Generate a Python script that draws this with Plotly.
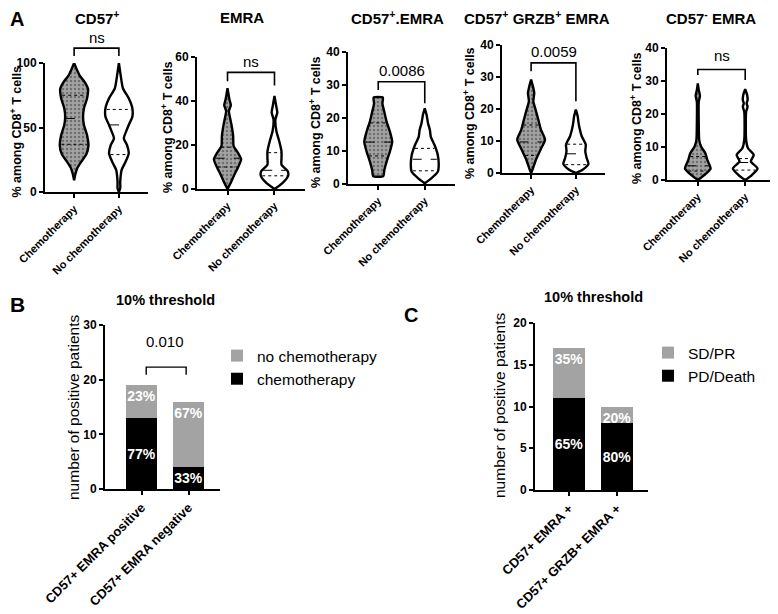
import numpy as np
import plotly.graph_objects as go

W, H = 778, 614
FONT = "Liberation Sans, Arial, Helvetica, sans-serif"

groups = ["Chemotherapy", "No chemotherapy"]

# ---------------- Panel A: violin profiles ----------------
# *_lv : levels (% among CD8+ T cells), *_hw : half-width of the violin (category units)
# *_q  : [Q1, median, Q3]
cd57_chemo_lv = [9, 14, 18.4, 23.5, 29, 36, 44, 52, 58, 65, 72.6, 80, 85, 90, 95, 100]
cd57_chemo_hw = [0, .03, .07, .16, .27, .32, .29, .22, .20, .22, .29, .31, .24, .13, .06, 0]
cd57_chemo_q = [37, 57, 75]
cd57_nochemo_lv = [0, 3, 8, 17, 23.5, 30, 36.5, 41.6, 46.8, 52, 58.4, 64.9, 72.6, 80.4, 90.4, 100]
cd57_nochemo_hw = [0, .03, .03, .06, .15, .22, .18, .11, .16, .22, .30, .30, .22, .09, .04, 0]
cd57_nochemo_q = [29, 52, 64]

emra_chemo_lv = [0, 2.9, 6.7, 9.7, 13.5, 16.5, 19.5, 24.1, 28.6, 31.7, 35.5, 38.1, 40.8, 45.8]
emra_chemo_hw = [0, .07, .15, .22, .29, .22, .13, .12, .09, .06, .03, .07, .04, 0]
emra_chemo_q = [10, 14, 19]
emra_nochemo_lv = [0, 2.9, 5.9, 8.2, 11, 14, 17, 21.8, 26.4, 31.7, 34.7, 38.5, 42.3]
emra_nochemo_hw = [0, .18, .29, .28, .15, .15, .15, .10, .04, .02, .06, .03, 0]
emra_nochemo_q = [6, 8.5, 16.5]

cd57emra_chemo_lv = [2.4, 4.2, 6.8, 9.8, 12.8, 15.9, 18.9, 21.9, 24.4, 26.2]
cd57emra_chemo_hw = [.11, .13, .18, .25, .30, .25, .18, .13, .09, .10]
cd57emra_chemo_q = [8.5, 12.7, 18.5]
cd57emra_nochemo_lv = [0.2, 1.7, 3.7, 5.8, 8.8, 11.8, 14.3, 16.4, 18.4, 20.9, 22.9]
cd57emra_nochemo_hw = [0, .14, .28, .30, .28, .21, .13, .11, .07, .04, 0]
cd57emra_nochemo_q = [4, 7.5, 10.8]

grzb_chemo_lv = [0, 1, 4.2, 7.3, 10.4, 13.5, 16.7, 19.8, 22.4, 25, 27.1, 29.2]
grzb_chemo_hw = [0, .03, .11, .21, .31, .22, .16, .10, .05, .07, .04, 0]
grzb_chemo_q = [5.5, 9.7, 15]
grzb_nochemo_lv = [0, 1, 2.8, 4.7, 6.8, 8.9, 11.5, 13.5, 15.6, 17.7, 19.8]
grzb_nochemo_hw = [0, .15, .28, .24, .21, .22, .13, .09, .06, .04, 0]
grzb_nochemo_q = [2.6, 6, 9]

neg_chemo_lv = [0, 2, 3.5, 6.1, 8.1, 10.1, 12.1, 17.2, 23.7, 25.5, 27.3, 29.3]
neg_chemo_hw = [0, .18, .27, .20, .16, .07, .03, .02, .02, .045, .02, 0]
neg_chemo_q = [2.7, 4.3, 7.1]
neg_nochemo_lv = [0, 1.5, 3.5, 5.6, 7.6, 9.6, 12.1, 20.7, 22.2, 23.2, 24.2, 25.8, 27.5]
neg_nochemo_hw = [0, .14, .26, .12, .18, .06, .02, .02, .05, .03, .05, .04, 0]
neg_nochemo_q = [3, 5.3, 6.5]

panel_titles = ["CD57<sup>+</sup>", "EMRA", "CD57<sup>+</sup>.EMRA",
                "CD57<sup>+</sup> GRZB<sup>+</sup> EMRA", "CD57<sup>-</sup> EMRA"]
panel_ymax = [100, 60, 40, 40, 40]
panel_dtick = [50, 20, 10, 10, 10]
a_ytitle = "% among CD8<sup>+</sup> T cells"
p_values = ["ns", "ns", "0.0086", "0.0059", "ns"]
# bracket: top, left leg end, right leg end (data units)
bracket_levels = [(111.5, 105.5, 105.5), (53, 49, 47), (31, 28.5, 24.5),
                  (34.4, 31.8, 22.4), (33.5, 31.8, 30.3)]
pvalue_levels = [120, 58, 34.5, 38, 37.6]

# ---------------- Panel B ----------------
b_categories = ["CD57+ EMRA positive", "CD57+ EMRA negative"]
b_chemo = [13, 4]
b_nochemo = [6, 12]
b_chemo_pct = ["77%", "33%"]
b_nochemo_pct = ["23%", "67%"]
b_pvalue = "0.010"

# ---------------- Panel C ----------------
c_categories = ["CD57+ EMRA +", "CD57+ GRZB+ EMRA +"]
c_pd = [11, 8]
c_sd = [6, 2]
c_pd_pct = ["65%", "80%"]
c_sd_pct = ["35%", "20%"]
bar_ytitle = "number of positive patients"

# ---------------- layout geometry (pixels in the target picture) ----------------
a_dom_x = [(45, 148), (197, 305), (348, 455), (502, 605), (667, 776)]
a_dom_y = [(63, 192), (57, 189), (52, 184), (45, 173), (48, 180)]
a_title_pos = [(97, 17), (242, 17), (397, 17), (537, 17), (711, 17)]
a_ytitle_x = [16, 167, 315, 469, 636]

# the page places the figure 8 px from the top-left corner of the window
OFF = 8


def fx(px):
    return (px - OFF) / W


def fy(py):
    return 1 - (py - OFF) / H


GRAY = "#a3a3a3"
fig = go.Figure()

axis_line = dict(showline=True, linecolor="black", linewidth=2, ticks="outside",
                 ticklen=4, tickwidth=2, tickcolor="black", showgrid=False,
                 zeroline=False, automargin=False)
tick_bold = lambda s: dict(family=FONT, size=s, color="black", weight="bold")

profiles = [
    ((cd57_chemo_lv, cd57_chemo_hw, cd57_chemo_q), (cd57_nochemo_lv, cd57_nochemo_hw, cd57_nochemo_q)),
    ((emra_chemo_lv, emra_chemo_hw, emra_chemo_q), (emra_nochemo_lv, emra_nochemo_hw, emra_nochemo_q)),
    ((cd57emra_chemo_lv, cd57emra_chemo_hw, cd57emra_chemo_q), (cd57emra_nochemo_lv, cd57emra_nochemo_hw, cd57emra_nochemo_q)),
    ((grzb_chemo_lv, grzb_chemo_hw, grzb_chemo_q), (grzb_nochemo_lv, grzb_nochemo_hw, grzb_nochemo_q)),
    ((neg_chemo_lv, neg_chemo_hw, neg_chemo_q), (neg_nochemo_lv, neg_nochemo_hw, neg_nochemo_q)),
]

shapes = []
annotations = []
layout = {}


def ann(**kw):
    d = dict(showarrow=False, xanchor="center", yanchor="middle")
    d.update(kw)
    annotations.append(d)


for i in range(5):
    n = i + 1
    s = "" if n == 1 else str(n)
    xa, ya = "x" + s, "y" + s
    for gi, (lv, hw, q) in enumerate(profiles[i]):
        lv = np.asarray(lv, float)
        hw = np.asarray(hw, float)
        xs = np.concatenate([gi - hw, (gi + hw)[::-1], [gi - hw[0]]])
        ys = np.concatenate([lv, lv[::-1], [lv[0]]])
        kw = dict(x=xs, y=ys, mode="lines", fill="toself",
                  line=dict(color="black", width=2.4, shape="spline", smoothing=0.6),
                  xaxis=xa, yaxis=ya, showlegend=False, hoverinfo="skip")
        if gi == 0:
            kw["fillcolor"] = GRAY
            kw["fillpattern"] = dict(shape=".", bgcolor=GRAY, fgcolor="#707070",
                                     size=4, solidity=0.3)
        else:
            kw["fillcolor"] = "white"
        fig.add_trace(go.Scatter(**kw))
        for qi, qv in enumerate(q):
            w = float(np.interp(qv, lv, hw)) * 0.9
            fig.add_trace(go.Scatter(
                x=[gi - w, gi + w], y=[qv, qv], mode="lines",
                line=dict(color="black", width=1, dash="dash" if qi == 1 else "dot"),
                xaxis=xa, yaxis=ya, showlegend=False, hoverinfo="skip"))

    ymax = panel_ymax[i]
    layout["xaxis" + s] = dict(
        axis_line, domain=[fx(a_dom_x[i][0]), fx(a_dom_x[i][1])], anchor=ya,
        range=[-0.65, 1.65], tickvals=[0, 1], ticktext=groups, tickangle=-45,
        tickfont=tick_bold(11))
    layout["yaxis" + s] = dict(
        axis_line, domain=[fy(a_dom_y[i][1]), fy(a_dom_y[i][0])], anchor=xa,
        range=[0, ymax], tickvals=list(range(0, ymax + 1, panel_dtick[i])),
        tickfont=tick_bold(12))
    top, lft, rgt = bracket_levels[i]
    f = lambda v: v / ymax
    shapes.append(dict(type="path", xref=xa, yref=ya + " domain",
                       path=f"M 0,{f(lft)} L 0,{f(top)} L 1,{f(top)} L 1,{f(rgt)}",
                       line=dict(color="black", width=1.6)))
    ann(xref=xa, yref=ya + " domain", x=0.5, y=f(pvalue_levels[i]), text=p_values[i],
        font=dict(family=FONT, size=15, color="black"))
    ann(xref="paper", yref="paper", x=fx(a_title_pos[i][0]), y=fy(a_title_pos[i][1]),
        text=panel_titles[i], font=dict(family=FONT, size=15, color="black", weight="bold"))
    ann(xref="paper", yref="paper", x=fx(a_ytitle_x[i]),
        y=fy((a_dom_y[i][0] + a_dom_y[i][1]) / 2 + 4), text=a_ytitle, textangle=-90,
        font=dict(family=FONT, size=12.5, color="black", weight="bold"))

bar_text_font = dict(family=FONT, size=14, color="white", weight="bold")

# ---------------- Panel B bars ----------------
fig.add_trace(go.Bar(x=b_categories, y=b_chemo, name="chemotherapy", marker_color="black",
                     marker_line_width=0, width=0.66, text=b_chemo_pct, textangle=0,
                     textposition="inside", insidetextanchor="middle", textfont=bar_text_font,
                     xaxis="x6", yaxis="y6", legend="legend", hoverinfo="skip"))
fig.add_trace(go.Bar(x=b_categories, y=b_nochemo, name="no chemotherapy", marker_color=GRAY,
                     marker_line_width=0, width=0.66, text=b_nochemo_pct, textangle=0,
                     textposition="inside", insidetextanchor="end", textfont=bar_text_font,
                     xaxis="x6", yaxis="y6", legend="legend", hoverinfo="skip"))

# ---------------- Panel C bars ----------------
fig.add_trace(go.Bar(x=c_categories, y=c_pd, name="PD/Death", marker_color="black",
                     marker_line_width=0, width=0.67, text=c_pd_pct, textangle=0,
                     textposition="inside", insidetextanchor="middle", textfont=bar_text_font,
                     xaxis="x7", yaxis="y7", legend="legend2", hoverinfo="skip"))
fig.add_trace(go.Bar(x=c_categories, y=c_sd, name="SD/PR", marker_color=GRAY,
                     marker_line_width=0, width=0.67, text=c_sd_pct, textangle=0,
                     textposition="inside", insidetextanchor="end", textfont=bar_text_font,
                     xaxis="x7", yaxis="y7", legend="legend2", hoverinfo="skip"))

layout["xaxis6"] = dict(axis_line, domain=[fx(105), fx(220)], anchor="y6",
                        range=[-0.777, 1.67], tickangle=-45, tickfont=tick_bold(13))
layout["yaxis6"] = dict(axis_line, domain=[fy(489), fy(325)], anchor="x6",
                        range=[0, 30], tickvals=[0, 10, 20, 30], tickfont=tick_bold(12))
layout["xaxis7"] = dict(axis_line, domain=[fx(535), fx(648)], anchor="y7",
                        range=[-0.708, 1.646], tickangle=-45, tickfont=tick_bold(13))
layout["yaxis7"] = dict(axis_line, domain=[fy(490), fy(323)], anchor="x7",
                        range=[0, 20], tickvals=[0, 5, 10, 15, 20], tickfont=tick_bold(12))

for (px, py) in [(73, 408), (499, 405)]:
    ann(xref="paper", yref="paper", x=fx(px), y=fy(py), text=bar_ytitle, textangle=-90,
        font=dict(family=FONT, size=15.5, color="black"))

# significance bracket panel B
shapes.append(dict(type="path", xref="x6", yref="y6",
                   path="M 0.1,20.9 L 0.1,22.3 L 0.95,22.3 L 0.95,20.9",
                   line=dict(color="black", width=1.4)))
ann(xref="x6", yref="y6", x=0.5, y=26.9, text=b_pvalue,
    font=dict(family=FONT, size=15, color="black"))

# panel titles / letters
for txt, (px, py), size in [("10% threshold", (165, 300), 14.5),
                            ("10% threshold", (593, 297), 14.5),
                            ("A", (17, 19), 20), ("B", (17, 304), 21), ("C", (411, 315), 20)]:
    ann(xref="paper", yref="paper", x=fx(px), y=fy(py), text=txt,
        font=dict(family=FONT, size=size, color="black", weight="bold"))

leg_common = dict(xanchor="left", yanchor="top", traceorder="reversed",
                  bgcolor="rgba(0,0,0,0)", font=dict(family=FONT, size=15.5, color="black"),
                  itemclick=False, itemdoubleclick=False)

fig.update_layout(
    template="none",
    width=W, height=H, autosize=False,
    margin=dict(l=0, r=0, t=0, b=0, autoexpand=False),
    paper_bgcolor="white", plot_bgcolor="white",
    barmode="stack", bargap=0,
    font=dict(family=FONT, color="black"),
    shapes=shapes, annotations=annotations,
    uniformtext=dict(minsize=13, mode="show"),
    legend=dict(leg_common, x=fx(217), y=fy(339)),
    legend2=dict(leg_common, x=fx(648), y=fy(336)),
    **layout,
)

fig.write_html("out.html")
